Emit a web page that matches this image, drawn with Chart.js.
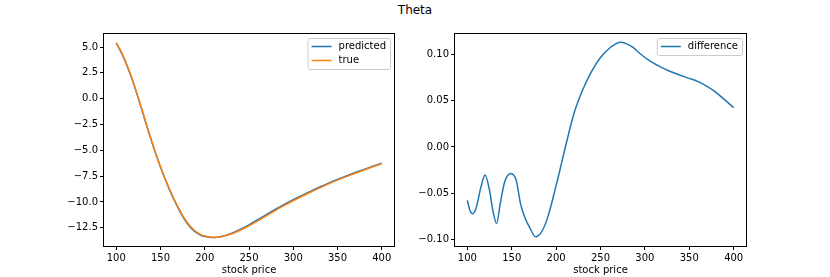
<!DOCTYPE html>
<html>
<head>
<meta charset="utf-8">
<script src="https://cdn.jsdelivr.net/npm/chart.js@4.4.1/dist/chart.umd.min.js"></script>
<style>
  body { margin: 0; background: #fff; }
  #wrap { position: relative; width: 830px; height: 277px; }
  #title { position: absolute; left: 0; top: 3px; width: 830px; text-align: center; font: 12px "DejaVu Sans"; line-height: 14px; color: #000; }
  .box { position: absolute; top: 0; width: 415px; height: 277px; }
</style>
</head>
<body>
<div id="wrap">
  <div id="title">Theta</div>
  <div class="box" style="left:0"><canvas id="left" width="415" height="277"></canvas></div>
  <div class="box" style="left:415px"><canvas id="right" width="415" height="277"></canvas></div>
</div>
<script>
// values
const stockPrice = [100, 105, 110, 115, 120, 125, 130, 135, 140, 145, 150, 155, 160, 165, 170, 175, 180, 185, 190, 195,
  200, 210, 220, 230, 240, 250, 260, 270, 280, 290, 300, 310, 320, 330, 340, 350, 360, 370, 380, 390, 400];
const thetaTrue = [5.42, 4.65, 3.70, 2.60, 1.38, 0.06, -1.32, -2.72, -4.10, -5.40, -6.60, -7.70, -8.72, -9.66, -10.51, -11.31, -11.96, -12.48, -12.88, -13.14,
  -13.30, -13.43, -13.35, -13.10, -12.74, -12.31, -11.83, -11.32, -10.81, -10.33, -9.88, -9.45, -9.03, -8.63, -8.25, -7.89, -7.55, -7.22, -6.90, -6.59, -6.29];
const thetaPredicted = [5.362, 4.578, 3.634, 2.555, 1.35, 0.013, -1.393, -2.793, -4.147, -5.433, -6.629, -7.736, -8.782, -9.737, -10.597, -11.405, -12.056, -12.57, -12.958, -13.2,
  -13.342, -13.432, -13.314, -13.038, -12.658, -12.213, -11.723, -11.207, -10.699, -10.225, -9.783, -9.36, -8.945, -8.549, -8.172, -7.816, -7.479, -7.154, -6.841, -6.539, -6.248];

const diffPrice = [100, 103, 106, 110, 115, 120, 125, 129, 133, 137, 142, 149, 155, 160, 165, 170, 177, 183, 190, 200,
  210, 220, 230, 240, 250, 260, 266, 272, 279, 287, 294, 305, 317, 328, 339, 350, 360, 370, 380, 390, 400];
const thetaDifference = [-0.058, -0.069, -0.0725, -0.066, -0.045, -0.0305, -0.047, -0.070, -0.083, -0.062, -0.038, -0.0287, -0.036, -0.062, -0.077, -0.087, -0.0975, -0.093, -0.078, -0.042,
  -0.002, 0.036, 0.062, 0.082, 0.097, 0.107, 0.111, 0.1135, 0.112, 0.1076, 0.1015, 0.0935, 0.087, 0.082, 0.078, 0.0743, 0.0708, 0.0657, 0.0592, 0.0510, 0.0425];

const xTicks = [100, 150, 200, 250, 300, 350, 400];
const leftYTicks = [-12.5, -10, -7.5, -5, -2.5, 0, 2.5, 5];
const rightYTicks = [-0.1, -0.05, 0, 0.05, 0.1];

const blue = '#1f77b4';
const orange = '#ff7f0e';

Chart.defaults.font.family = '"DejaVu Sans"';
Chart.defaults.font.size = 10;
Chart.defaults.color = '#000';

const pts = (xs, ys) => xs.map((x, i) => ({ x: x, y: ys[i] }));
const fmt = d => v => Number(v).toFixed(d).replace('-', '\u2212');

// axes box on all four sides like matplotlib
const framePlugin = {
  id: 'frame',
  afterDraw(chart) {
    const { ctx, chartArea: a } = chart;
    ctx.save();
    ctx.strokeStyle = '#000';
    ctx.lineWidth = 1;
    ctx.strokeRect(Math.round(a.left) + 0.5, Math.round(a.top) + 0.5,
      Math.round(a.right - a.left) - 1, Math.round(a.bottom - a.top) - 1);
    ctx.restore();
  }
};

// legend box at upper right inside the plot
const boxLegend = {
  id: 'boxLegend',
  afterDraw(chart) {
    const { ctx, chartArea: a } = chart;
    const sets = chart.data.datasets;
    ctx.save();
    ctx.font = '10px "DejaVu Sans"';
    const textW = Math.max(...sets.map(d => ctx.measureText(d.label).width));
    const rowH = 14;
    const w = 31 + textW + 4;
    const h = sets.length * rowH + 3;
    const x = a.right - 5 - w;
    const y = a.top + 5;
    ctx.beginPath();
    ctx.roundRect(x + 0.5, y + 0.5, w, h, 2);
    ctx.fillStyle = 'rgba(255,255,255,0.8)';
    ctx.fill();
    ctx.strokeStyle = '#cccccc';
    ctx.lineWidth = 1;
    ctx.stroke();
    sets.forEach((d, i) => {
      const cy = y + 8.5 + rowH * i;
      ctx.beginPath();
      ctx.moveTo(x + 4, cy);
      ctx.lineTo(x + 24, cy);
      ctx.strokeStyle = d.borderColor;
      ctx.lineWidth = 1.5;
      ctx.stroke();
      ctx.fillStyle = '#000';
      ctx.textBaseline = 'middle';
      ctx.fillText(d.label, x + 31, cy);
    });
    ctx.restore();
  }
};

function makeOptions(yMin, yMax, yTicks, yDec, yWidth, rightPad) {
  return {
    responsive: false,
    animation: false,
    layout: { padding: { top: 33, right: rightPad, left: 0, bottom: 0 } },
    plugins: { legend: { display: false }, tooltip: { enabled: false } },
    scales: {
      x: {
        type: 'linear',
        min: 85,
        max: 415,
        afterBuildTicks: s => { s.ticks = xTicks.map(v => ({ value: v })); },
        afterFit: s => { s.height = 30; },
        ticks: { callback: fmt(0), padding: 2, maxRotation: 0 },
        grid: { drawOnChartArea: false, tickLength: 3, color: '#000' },
        border: { display: false },
        title: { display: true, text: 'stock price', padding: { top: 0, bottom: 1 } }
      },
      y: {
        type: 'linear',
        min: yMin,
        max: yMax,
        afterBuildTicks: s => { s.ticks = yTicks.map(v => ({ value: v })); },
        afterFit: s => { s.width = yWidth; },
        ticks: { callback: fmt(yDec), padding: 2 },
        grid: { drawOnChartArea: false, tickLength: 3, color: '#000' },
        border: { display: false }
      }
    }
  };
}

new Chart(document.getElementById('left'), {
  type: 'line',
  data: {
    datasets: [
      { label: 'predicted', data: pts(stockPrice, thetaPredicted), borderColor: blue, borderWidth: 1.5,
        pointRadius: 0, cubicInterpolationMode: 'monotone', order: 1 },
      { label: 'true', data: pts(stockPrice, thetaTrue), borderColor: orange, borderWidth: 1.5,
        pointRadius: 0, cubicInterpolationMode: 'monotone', order: 0 }
    ]
  },
  options: makeOptions(-14.36, 6.36, leftYTicks, 1, 103, 20),
  plugins: [framePlugin, boxLegend]
});

new Chart(document.getElementById('right'), {
  type: 'line',
  data: {
    datasets: [
      { label: 'difference', data: pts(diffPrice, thetaDifference), borderColor: blue, borderWidth: 1.5,
        pointRadius: 0, cubicInterpolationMode: 'monotone' }
    ]
  },
  options: makeOptions(-0.1085, 0.1235, rightYTicks, 2, 39, 83),
  plugins: [framePlugin, boxLegend]
});
</script>
</body>
</html>
